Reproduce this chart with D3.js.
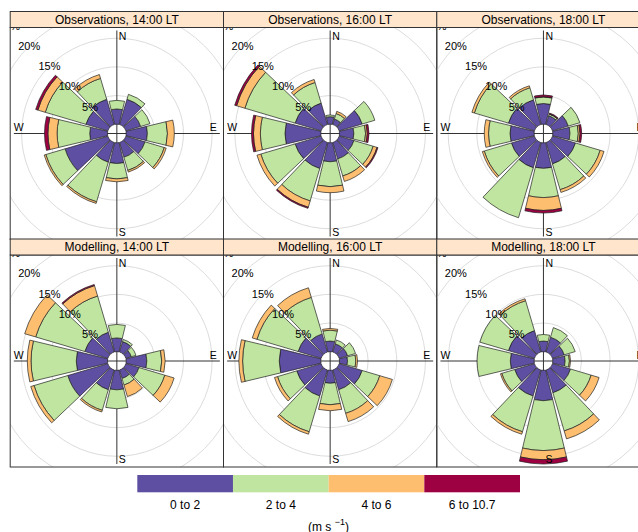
<!DOCTYPE html>
<html>
<head>
<meta charset="utf-8">
<script src="https://cdn.jsdelivr.net/npm/d3@7"></script>
<style>
  body { margin: 0; background: #fff; }
  text { font-family: "Liberation Sans", Arial, sans-serif; }
</style>
</head>
<body>
<svg width="638" height="532"></svg>
<script>
// wind directions (deg) and speed bins
var directions = [0, 30, 60, 90, 120, 150, 180, 210, 240, 270, 300, 330];
var speedBins = ["0 to 2", "2 to 4", "4 to 6", "6 to 10.7"];
var binColours = ["#5E4FA2", "#BFE5A0", "#FDBF6F", "#9E0142"];
var gridPct = [5, 10, 15, 20, 25];

var panelTitles = ["Observations, 14:00 LT", "Observations, 16:00 LT", "Observations, 18:00 LT",
                   "Modelling, 14:00 LT", "Modelling, 16:00 LT", "Modelling, 18:00 LT"];

// frequency (%) per direction, one row per direction, one column per speed bin
var obs14 = [[2.65, 1.5, 0, 0], [4.6, 0.9, 0, 0], [2.7, 1.7, 0, 0], [3.7, 3.5, 1.2, 0],
             [3.5, 3.5, 0.35, 0], [2.7, 2.4, 0.3, 0], [3.6, 2.7, 0.5, 0], [3.6, 7.2, 0.3, 0],
             [7.8, 3.5, 0.3, 0], [3.1, 5.7, 1.6, 0.6], [4.0, 7.4, 1.35, 0.4], [4.6, 3.8, 0.7, 0]];
var obs16 = [[1.3, 0.3, 0, 0], [1.0, 1.0, 0.4, 0], [4.2, 2.3, 0, 0], [2.5, 2.05, 0.3, 0.3],
             [2.7, 3.5, 0.7, 0.17], [3.0, 3.1, 1.0, 0], [3.3, 4.35, 1.05, 0], [4.75, 5.9, 1.15, 0.2],
             [4.75, 6.25, 0.7, 0], [6.25, 4.3, 1.2, 0.35], [4.75, 9.15, 1.5, 0.35], [3.9, 3.75, 0.55, 0]];
var obs18 = [[3.6, 1.15, 0.05, 0.3], [1.6, 0.3, 0.05, 0.15], [2.9, 2.1, 0, 0], [3.0, 1.45, 0.3, 0.3],
             [4.2, 4.5, 0.7, 0], [3.9, 4.7, 0.5, 0], [4.45, 5.1, 2.25, 0.45], [4.6, 9.1, 0, 0],
             [4.2, 4.95, 0.35, 0], [4.2, 3.75, 0.75, 0], [4.75, 6.2, 0.45, 0], [4.5, 2.2, 0.35, 0]];
var mod14 = [[2.4, 2.35, 0, 0], [1.9, 0.4, 0, 0], [1.0, 0.85, 0, 0], [3.6, 2.6, 0.6, 0],
             [2.4, 4.7, 1.7, 0], [1.55, 1.2, 2.1, 0], [3.4, 3.3, 0, 0], [3.6, 3.75, 0.3, 0],
             [7.3, 6.15, 0.6, 0], [5.45, 7.9, 0.65, 0], [4.2, 8.95, 2.0, 0], [3.6, 6.6, 1.9, 0.2]];
var mod16 = [[1.85, 1.9, 0.3, 0], [1.5, 0.7, 0, 0], [1.55, 1.45, 0, 0], [1.4, 1.45, 0.3, 0],
             [4.2, 3.2, 2.3, 0], [3.6, 4.3, 1.5, 0], [2.25, 3.75, 1.05, 0], [4.75, 6.5, 0.45, 0],
             [4.45, 3.5, 0.55, 0], [7.25, 6.4, 0.65, 0], [4.2, 7.5, 0.85, 0], [3.3, 6.65, 1.75, 0]];
var mod18 = [[1.85, 1.15, 0, 0], [2.7, 1.75, 0, 0], [2.15, 2.0, 0, 0], [2.15, 0.75, 0.2, 0],
             [3.3, 3.75, 1.45, 0], [4.15, 6.95, 1.45, 0], [5.3, 8.7, 1.6, 0.75], [4.75, 6.5, 0.45, 0],
             [3.6, 2.35, 0.25, 0], [4.15, 5.8, 0, 0], [4.75, 5.2, 0, 0], [3.9, 5.45, 0.35, 0]];

var panelData = [obs14, obs16, obs18, mod14, mod16, mod18];

var svg = d3.select("svg");

// layout
var left = 10.2, panelW = 213.3, panelH = 212, stripH = 16;
var rowTops = [27.5, 255];
var R = 103;

// common radial scale, openair style: hole in the middle = 10% of max
var maxFreq = d3.max(panelData, function(p) { return d3.max(p, function(d) { return d3.sum(d); }); });
var offset = maxFreq * 0.1;
var r = d3.scaleLinear().domain([0, maxFreq + offset]).range([0, R]);

var halfSpan = 0.9 * 30 / 2;
var rad = Math.PI / 180;
var arc = d3.arc();

panelData.forEach(function(data, i) {
  var col = i % 3, row = Math.floor(i / 3);
  var x0 = left + col * panelW, y0 = rowTops[row];
  var cx = x0 + panelW / 2, cy = y0 + panelH / 2;

  svg.append("clipPath").attr("id", "clip" + i)
    .append("rect").attr("x", x0).attr("y", y0).attr("width", panelW).attr("height", panelH);

  var g = svg.append("g").attr("clip-path", "url(#clip" + i + ")");
  var c = g.append("g").attr("transform", "translate(" + cx + "," + cy + ")");

  // grid circles
  c.selectAll(".grid")
    .data(gridPct)
    .enter().append("circle")
      .attr("r", function(d) { return r(d + offset); })
      .attr("fill", "none")
      .attr("stroke", "#dcdcdc")
      .attr("stroke-width", 1);

  // compass lines
  c.append("line").attr("x1", 0).attr("x2", 0).attr("y1", -R).attr("y2", R)
    .attr("stroke", "#333").attr("stroke-width", 1);
  c.append("line").attr("x1", -R).attr("x2", R).attr("y1", 0).attr("y2", 0)
    .attr("stroke", "#333").attr("stroke-width", 1);

  // stacked wedges
  data.forEach(function(bins, j) {
    var dir = directions[j];
    var cum = 0;
    bins.forEach(function(v, k) {
      if (v <= 0) return;
      var inner = cum;
      cum += v;
      c.append("path")
        .attr("d", arc({
          innerRadius: r(inner + offset),
          outerRadius: r(cum + offset),
          startAngle: (dir - halfSpan) * rad,
          endAngle: (dir + halfSpan) * rad
        }))
        .attr("fill", binColours[k])
        .attr("stroke", "#222")
        .attr("stroke-width", 0.7);
    });
  });

  // percent labels along 315 deg
  c.selectAll(".pct")
    .data(gridPct)
    .enter().append("text")
      .attr("x", function(d) { return -r(d + offset) * Math.SQRT1_2; })
      .attr("y", function(d) { return -r(d + offset) * Math.SQRT1_2; })
      .attr("text-anchor", "middle")
      .attr("dominant-baseline", "central")
      .style("font-size", "11px")
      .text(function(d) { return d + "%"; });

  // compass letters
  c.append("text").attr("x", 2).attr("y", -R + 5).attr("dominant-baseline", "central")
    .style("font-size", "10.5px").text("N");
  c.append("text").attr("x", 2).attr("y", R - 5).attr("dominant-baseline", "central")
    .style("font-size", "10.5px").text("S");
  c.append("text").attr("x", -R).attr("y", -6.5).attr("dominant-baseline", "central")
    .style("font-size", "10.5px").text("W");
  c.append("text").attr("x", R - 3).attr("y", -6.5).attr("dominant-baseline", "central")
    .attr("text-anchor", "end").style("font-size", "10.5px").text("E");

  // frame and strip
  svg.append("rect").attr("x", x0).attr("y", y0).attr("width", panelW).attr("height", panelH)
    .attr("fill", "none").attr("stroke", "#333").attr("stroke-width", 1);
  svg.append("rect").attr("x", x0).attr("y", y0 - stripH).attr("width", panelW).attr("height", stripH)
    .attr("fill", "#FFE5CC").attr("stroke", "#333").attr("stroke-width", 1);
  svg.append("text").attr("x", cx).attr("y", y0 - stripH / 2).attr("text-anchor", "middle")
    .attr("dominant-baseline", "central").style("font-size", "12px").text(panelTitles[i]);
});

// legend
var legX = d3.scaleBand().domain(speedBins).range([137.3, 520]).paddingInner(0);
svg.selectAll(".leg")
  .data(speedBins)
  .enter().append("rect")
    .attr("x", function(d) { return legX(d); })
    .attr("y", 475)
    .attr("width", legX.bandwidth())
    .attr("height", 17.3)
    .attr("fill", function(d, i) { return binColours[i]; });
svg.selectAll(".legtxt")
  .data(speedBins)
  .enter().append("text")
    .attr("x", function(d) { return legX(d) + legX.bandwidth() / 2; })
    .attr("y", 504.5)
    .attr("text-anchor", "middle")
    .attr("dominant-baseline", "central")
    .style("font-size", "12px")
    .text(function(d) { return d; });

var unit = svg.append("text").attr("x", 328.5).attr("y", 527).attr("text-anchor", "middle")
  .attr("dominant-baseline", "central").style("font-size", "12px");
unit.append("tspan").text("(m s ");
unit.append("tspan").attr("dy", -5).style("font-size", "9px").text("\u22121");
unit.append("tspan").attr("dy", 5).text(")");
</script>
</body>
</html>
